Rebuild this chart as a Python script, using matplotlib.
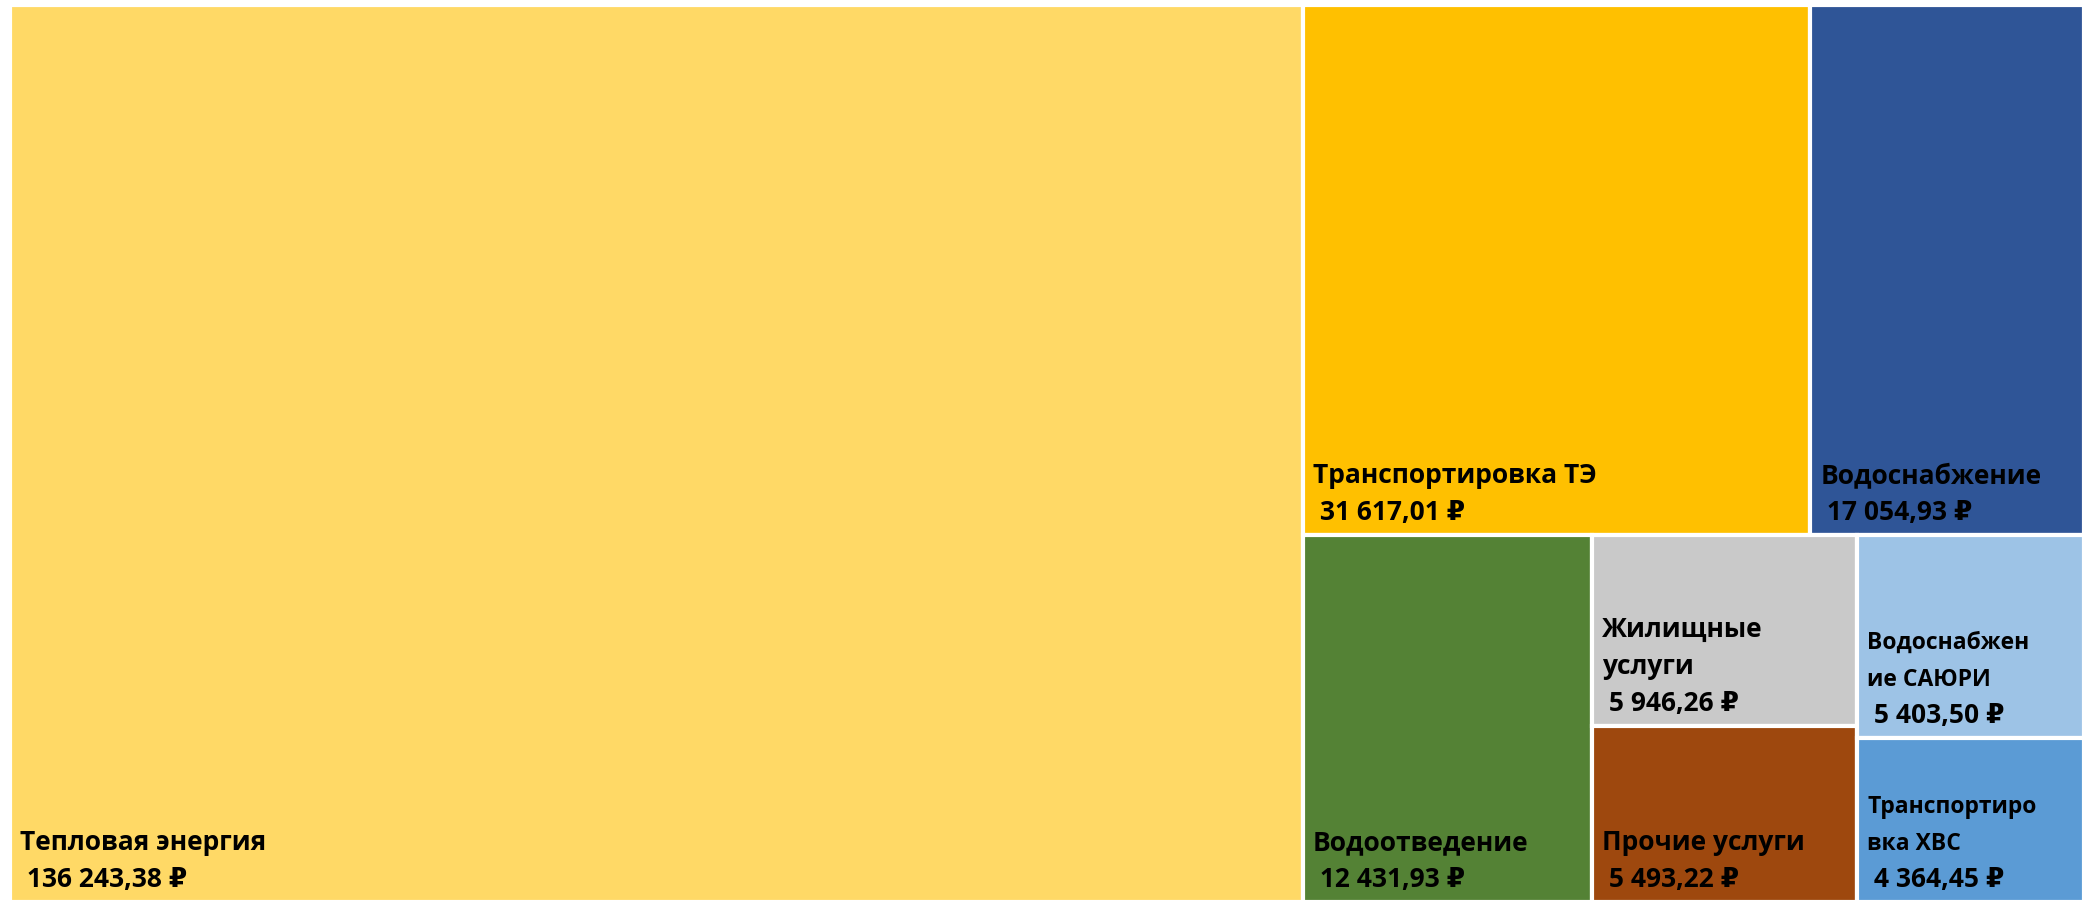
import matplotlib
matplotlib.use('Agg')
import matplotlib.pyplot as plt
from matplotlib.patches import Rectangle

plt.rcParams['font.family'] = ['Open Sans', 'DejaVu Sans']

# data (rubles), sorted as in the treemap
labels = ['Тепловая энергия', 'Транспортировка ТЭ', 'Водоснабжение',
          'Водоотведение', 'Жилищные\nуслуги', 'Прочие услуги',
          'Водоснабжен\nие САЮРИ', 'Транспортиро\nвка ХВС']
values = [136243.38, 31617.01, 17054.93, 12431.93, 5946.26, 5493.22,
          5403.50, 4364.45]
colors = ['#FFD966', '#FFC000', '#2F5597', '#548235', '#C9C9C9',
          '#9E480E', '#9DC3E6', '#5B9BD5']
# names in the narrow right-hand cells are squeezed
name_sizes = [19, 19, 19, 19, 19, 19, 16.5, 16.5]


def fmt_rub(v):
    s = '{:,.2f}'.format(v).replace(',', ' ').replace('.', ',')
    return ' ' + s + ' \u20bd'


def worst(row, side):
    s = sum(row)
    return max(max(side * side * r / (s * s), s * s / (side * side * r)) for r in row)


def squarify(vals, x, y, w, h):
    # classic squarified treemap, y grows downward
    total = sum(vals)
    areas = [v * w * h / total for v in vals]
    rects = []
    while areas:
        side = min(w, h)
        row = [areas[0]]
        i = 1
        while i < len(areas) and worst(row + [areas[i]], side) <= worst(row, side):
            row.append(areas[i])
            i += 1
        areas = areas[i:]
        s = sum(row)
        if w >= h:
            cw = s / h
            yy = y
            for a in row:
                rects.append((x, yy, cw, a / cw))
                yy += a / cw
            x += cw
            w -= cw
        else:
            rh = s / w
            xx = x
            for a in row:
                rects.append((xx, y, a / rh, rh))
                xx += a / rh
            y += rh
            h -= rh
    return rects


W, H = 2074.0, 897.0
fig = plt.figure(figsize=(20.84, 9.03), dpi=100)
ax = fig.add_axes([10 / 2084, 0, W / 2084, H / 903])
ax.set_xlim(0, W)
ax.set_ylim(H, 0)
ax.axis('off')

line_h = 37  # px between label lines
rects = squarify(values, 0, 0, W, H)
for (x, y, w, h), lab, val, col, fs in zip(rects, labels, values, colors, name_sizes):
    ax.add_patch(Rectangle((x, y), w, h, facecolor=col, edgecolor='white',
                           linewidth=3))
    base = y + h - 16
    ax.text(x + 10, base, fmt_rub(val), ha='left', va='baseline',
            fontsize=19, fontweight='bold', color='black')
    # name lines stacked upward above the value
    for k, part in enumerate(reversed(lab.split('\n'))):
        ax.text(x + 10, base - line_h * (k + 1), part, ha='left',
                va='baseline', fontsize=fs, fontweight='bold', color='black')

fig.savefig('out.png', dpi=100)
